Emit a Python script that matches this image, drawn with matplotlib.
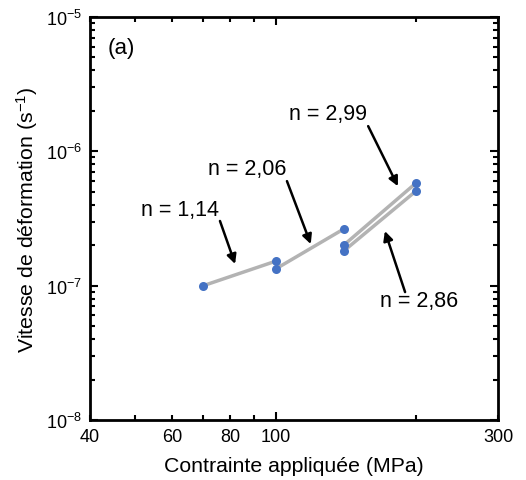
import math
import matplotlib
matplotlib.use("Agg")
import matplotlib.pyplot as plt
from matplotlib.ticker import FixedLocator, FuncFormatter, LogLocator, NullFormatter

plt.rcParams['font.family'] = ['Liberation Sans', 'DejaVu Sans']
plt.rcParams['mathtext.fontset'] = 'custom'
plt.rcParams['mathtext.rm'] = 'Liberation Sans'
plt.rcParams['mathtext.it'] = 'Liberation Sans'

# Data: stress (MPa) and strain rate (s^-1)
stress = [70, 100, 100, 140, 140, 140, 200, 200]
rate = [1.0e-7, 1.52e-7, 1.33e-7, 2.64e-7, 2.0e-7, 1.81e-7, 5.8e-7, 5.06e-7]

# Fitted segments (start/end points)
seg_x = [[70, 100], [100, 140], [140, 200], [140, 200]]
seg_y = [[1.0e-7, 1.52e-7], [1.33e-7, 2.64e-7], [2.0e-7, 5.8e-7], [1.81e-7, 5.06e-7]]

# Annotations: label, text position, arrow tail, arrow head
ann_labels = ['n = 1,14', 'n = 2,06', 'n = 2,99', 'n = 2,86']
ann_text = [(62.4, 3.72e-7), (86.8, 7.5e-7), (129.6, 1.90e-6), (203, 7.7e-8)]
ann_tail = [(76.0, 3.03e-7), (105.8, 6.0e-7), (158, 1.54e-6), (189.6, 8.96e-8)]
ann_head = [(81.9, 1.45e-7), (119, 2.04e-7), (183, 5.5e-7), (171.6, 2.55e-7)]

x_labeled = [40, 60, 80, 300]

fig = plt.figure(figsize=(5.26, 4.81), dpi=100)
ax = fig.add_axes([90/526, 1-421/481, 408/526, 403/481])
ax.set_xscale('log')
ax.set_yscale('log')
ax.set_xlim(40, 300)
ax.set_ylim(1e-8, 1e-5)

for xs, ys in zip(seg_x, seg_y):
    ax.plot(xs, ys, color='#b3b3b3', lw=2.5, solid_capstyle='butt', zorder=2)
ax.plot(stress, rate, 'o', color='#4472c4', ms=6.5, zorder=3, markeredgewidth=0)

for lab, t, tail, head in zip(ann_labels, ann_text, ann_tail, ann_head):
    ax.text(t[0], t[1], lab, fontsize=15.5, ha='center', va='center')
    ax.annotate('', xy=head, xytext=tail,
                arrowprops=dict(arrowstyle='-|>', color='black', lw=1.8,
                                mutation_scale=14, shrinkA=0, shrinkB=0))

ax.text(0.042, 0.925, '(a)', transform=ax.transAxes, fontsize=16, ha='left', va='center')

# x ticks
ax.xaxis.set_major_locator(FixedLocator([100]))
ax.xaxis.set_minor_locator(FixedLocator([40, 50, 60, 70, 80, 90, 200, 300]))
ax.xaxis.set_major_formatter(FuncFormatter(lambda v, p: '%d' % v))
ax.xaxis.set_minor_formatter(FuncFormatter(lambda v, p: ('%d' % round(v)) if round(v) in x_labeled else ''))

# y ticks
ax.yaxis.set_major_locator(LogLocator(base=10, numticks=10))
ax.yaxis.set_minor_locator(LogLocator(base=10, subs=range(2, 10), numticks=20))
ax.yaxis.set_minor_formatter(NullFormatter())
ax.yaxis.set_major_formatter(FuncFormatter(lambda v, p: r'$\mathregular{10^{%d}}$' % round(math.log10(v))))

ax.tick_params(which='both', direction='in', top=True, right=True, labelsize=13, width=1.5, pad=6)
ax.tick_params(which='major', length=6)
ax.tick_params(which='minor', length=3.5)
ax.tick_params(axis='x', which='minor', labelsize=13, pad=6)
for s in ax.spines.values():
    s.set_linewidth(2)

ax.set_xlabel('Contrainte appliquée (MPa)', fontsize=15.3, labelpad=8)
ax.set_ylabel(r'Vitesse de déformation (s$^{\mathregular{-1}}$)', fontsize=15.3, labelpad=4)

fig.savefig('out.png', dpi=100)
